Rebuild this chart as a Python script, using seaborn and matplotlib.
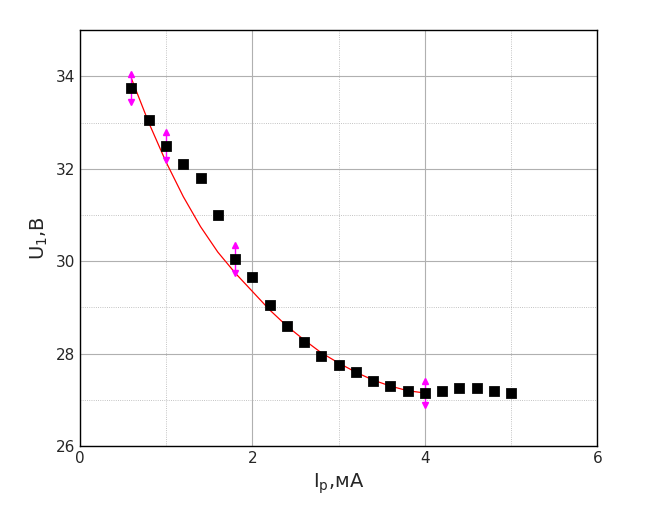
import matplotlib
matplotlib.use('Agg')
import matplotlib.pyplot as plt
import seaborn as sns
import numpy as np
from matplotlib.ticker import MultipleLocator

# measured points
current_ma = [0.6, 0.8, 1.0, 1.2, 1.4, 1.6, 1.8, 2.0, 2.2, 2.4, 2.6, 2.8, 3.0,
              3.2, 3.4, 3.6, 3.8, 4.0, 4.2, 4.4, 4.6, 4.8, 5.0]
voltage_v = [33.75, 33.05, 32.5, 32.1, 31.8, 31.0, 30.05, 29.65, 29.05, 28.6,
             28.25, 27.95, 27.75, 27.6, 27.4, 27.3, 27.2, 27.15, 27.2, 27.25,
             27.25, 27.2, 27.15]

# fitted curve
fit_x = [0.6, 0.8, 1.0, 1.2, 1.4, 1.6, 1.8, 2.0, 2.2, 2.4, 2.6, 2.8, 3.0,
         3.2, 3.4, 3.6, 3.8, 4.0]
fit_y = [33.95, 33.0, 32.15, 31.4, 30.75, 30.2, 29.75, 29.35, 28.95, 28.6,
         28.3, 28.02, 27.8, 27.6, 27.43, 27.3, 27.2, 27.15]

# error bars
err_x = [0.6, 1.0, 1.8, 4.0]
err_y = [33.75, 32.5, 30.05, 27.15]
err_h = [0.3, 0.3, 0.3, 0.27]

sns.set_style('white')
fig, ax = plt.subplots(figsize=(6.48, 5.2), dpi=100)
fig.subplots_adjust(left=0.123, right=0.922, top=0.942, bottom=0.142)

sns.lineplot(x=fit_x, y=fit_y, color='red', linewidth=0.9, ax=ax)
for x, y, h in zip(err_x, err_y, err_h):
    ax.plot([x, x], [y - h, y + h], color='magenta', linewidth=1)
    ax.plot(x, y + h, marker='^', color='magenta', markersize=4.5)
    ax.plot(x, y - h, marker='v', color='magenta', markersize=4.5)
sns.scatterplot(x=current_ma, y=voltage_v, marker='s', color='black', s=48,
                edgecolor='black', ax=ax, zorder=5)

ax.set_xlim(0, 6)
ax.set_ylim(26, 35)
ax.xaxis.set_major_locator(MultipleLocator(2))
ax.xaxis.set_minor_locator(MultipleLocator(1))
ax.yaxis.set_major_locator(MultipleLocator(2))
ax.yaxis.set_minor_locator(MultipleLocator(1))
ax.grid(which='major', color='#b0b0b0', linewidth=0.8)
ax.grid(which='minor', color='#b0b0b0', linewidth=0.6, linestyle=':')
ax.set_axisbelow(True)
ax.tick_params(which='both', direction='in', top=False, right=False, labelsize=11)
ax.tick_params(which='major', length=5)
ax.tick_params(which='minor', length=3)
for s in ax.spines.values():
    s.set_color('black')
    s.set_linewidth(1)

ax.set_xlabel('I$_\\mathregular{p}$,мА', fontsize=14)
ax.set_ylabel('U$_\\mathregular{1}$,В', fontsize=14)

fig.savefig('out.png', dpi=100)
